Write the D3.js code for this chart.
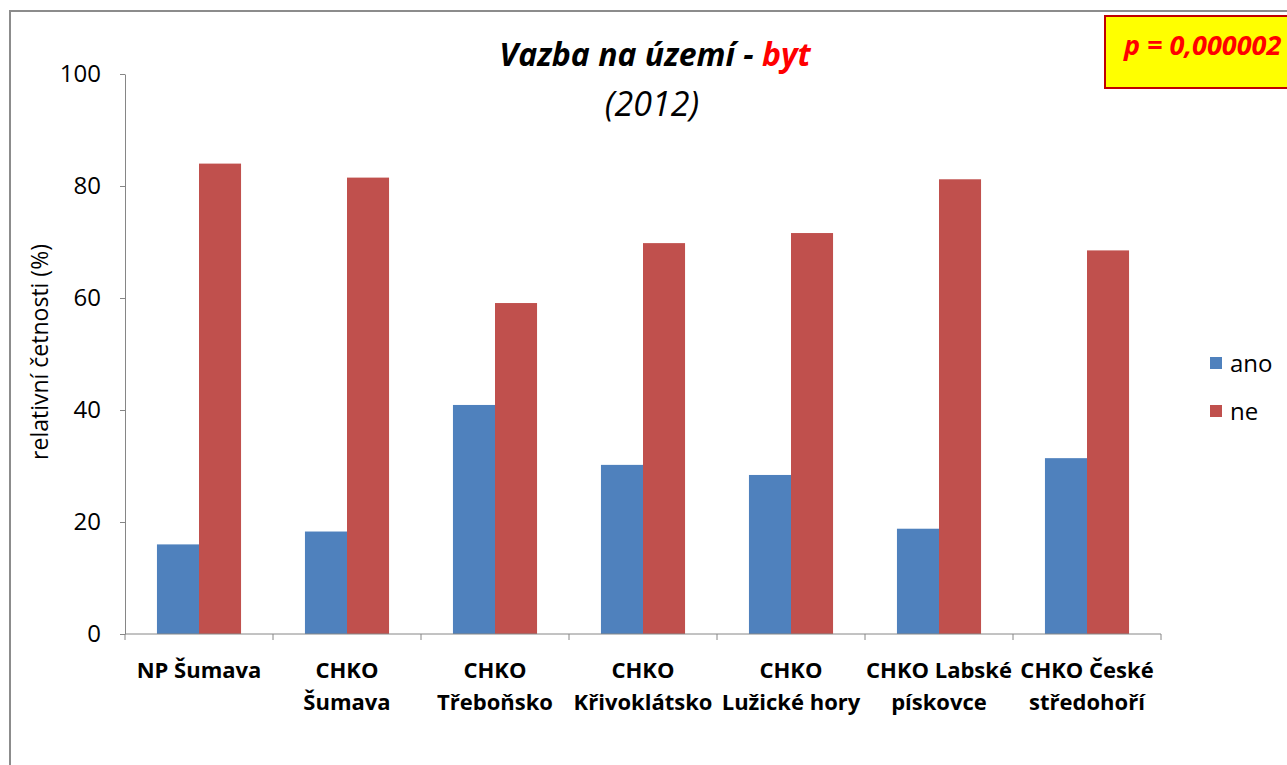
<!DOCTYPE html>
<html>
<head>
<meta charset="utf-8">
<script src="https://cdn.jsdelivr.net/npm/d3@7"></script>
<style>
  body { margin: 0; background: #fff; }
  text { font-family: "Open Sans", sans-serif; }
</style>
</head>
<body>
<div id="chart"></div>
<script>
const categories = [
  ["NP Šumava"],
  ["CHKO", "Šumava"],
  ["CHKO", "Třeboňsko"],
  ["CHKO", "Křivoklátsko"],
  ["CHKO", "Lužické hory"],
  ["CHKO Labské", "pískovce"],
  ["CHKO České", "středohoří"]
];
const seriesNames = ["ano", "ne"];
const anoValues = [16, 18.3, 40.9, 30.2, 28.4, 18.8, 31.4];
const neValues = [84, 81.5, 59.1, 69.8, 71.6, 81.2, 68.5];
const yTicks = [0, 20, 40, 60, 80, 100];
const colors = ["#4f81bd", "#c0504d"];

const width = 1287, height = 765;
const margin = {left: 125, right: 126, top: 74, bottom: 131};

const svg = d3.select("#chart").append("svg")
  .attr("width", width)
  .attr("height", height);

// outer frame
svg.append("rect")
  .attr("x", 10).attr("y", 11)
  .attr("width", 1400).attr("height", 900)
  .attr("fill", "#fff")
  .attr("stroke", "#8c8c8c")
  .attr("stroke-width", 2);

const x0 = d3.scaleBand()
  .domain(d3.range(categories.length))
  .range([margin.left, width - margin.right]);

const x1 = d3.scaleBand()
  .domain(seriesNames)
  .range([0, x0.bandwidth()])
  .paddingInner(0)
  .paddingOuter(0.76);

const y = d3.scaleLinear()
  .domain([0, 100])
  .range([height - margin.bottom, margin.top]);

const data = categories.map((c, i) => ({i: i, values: [anoValues[i], neValues[i]]}));

// bars
const groups = svg.append("g").selectAll("g")
  .data(data)
  .enter().append("g")
  .attr("transform", d => "translate(" + x0(d.i) + ",0)");

groups.selectAll("rect")
  .data(d => d.values.map((v, k) => ({key: seriesNames[k], v: v, k: k})))
  .enter().append("rect")
  .attr("x", d => x1(d.key))
  .attr("y", d => y(d.v))
  .attr("width", x1.bandwidth())
  .attr("height", d => y(0) - y(d.v))
  .attr("fill", d => colors[d.k]);

// y axis
const yAxis = svg.append("g")
  .attr("transform", "translate(" + margin.left + ",0)")
  .call(d3.axisLeft(y).tickValues(yTicks).tickSize(5).tickPadding(19).tickSizeOuter(0));
yAxis.select(".domain").attr("stroke", "#868686");
yAxis.selectAll(".tick line").attr("stroke", "#868686");
yAxis.selectAll("text")
  .attr("font-size", 24)
  .attr("fill", "#000")
  .style("font-family", "'Open Sans', sans-serif");

// x axis
const xAxis = svg.append("g")
  .attr("transform", "translate(0," + y(0) + ")");
xAxis.append("line")
  .attr("x1", margin.left).attr("x2", width - margin.right)
  .attr("y1", 0).attr("y2", 0)
  .attr("stroke", "#868686");
const xTickPos = d3.range(categories.length + 1).map(i => margin.left + i * x0.step());
xAxis.selectAll(".xtick")
  .data(xTickPos)
  .enter().append("line")
  .attr("x1", d => d).attr("x2", d => d)
  .attr("y1", 0).attr("y2", 6)
  .attr("stroke", "#868686");

const xl = xAxis.selectAll(".xlabel")
  .data(categories)
  .enter().append("text")
  .attr("x", (d, i) => x0(i) + x0.bandwidth() / 2)
  .attr("y", 44)
  .attr("text-anchor", "middle")
  .attr("font-size", 22)
  .attr("font-weight", "bold")
  .attr("fill", "#000");
xl.selectAll("tspan")
  .data(d => d)
  .enter().append("tspan")
  .attr("x", function() { return this.parentNode.getAttribute("x"); })
  .attr("dy", (d, k) => k === 0 ? 0 : 32)
  .text(d => d);

// y axis title
svg.append("text")
  .attr("transform", "translate(48,352) rotate(-90)")
  .attr("text-anchor", "middle")
  .attr("font-size", 23)
  .attr("fill", "#000")
  .text("relativní četnosti (%)");

// title
const title = svg.append("text")
  .attr("x", 655).attr("y", 66)
  .attr("text-anchor", "middle")
  .attr("font-size", 32)
  .attr("font-weight", "bold")
  .attr("font-style", "italic")
  .attr("fill", "#000");
title.append("tspan").text("Vazba na území - ");
title.append("tspan").attr("fill", "#ff0000").text("byt");

svg.append("text")
  .attr("x", 652).attr("y", 116)
  .attr("text-anchor", "middle")
  .attr("font-size", 34)
  .attr("font-style", "italic")
  .attr("fill", "#000")
  .text("(2012)");

// legend
const legend = svg.append("g").selectAll("g")
  .data(seriesNames)
  .enter().append("g")
  .attr("transform", (d, i) => "translate(1210," + (357 + i * 48) + ")");
legend.append("rect")
  .attr("width", 12).attr("height", 12)
  .attr("fill", (d, i) => colors[i]);
legend.append("text")
  .attr("x", 20).attr("y", 15)
  .attr("font-size", 24)
  .attr("fill", "#000")
  .text(d => d);

// p-value box
svg.append("rect")
  .attr("x", 1105).attr("y", 16)
  .attr("width", 200).attr("height", 72)
  .attr("fill", "#ffff00")
  .attr("stroke", "#c00000")
  .attr("stroke-width", 2);
svg.append("text")
  .attr("x", 1124).attr("y", 55)
  .attr("font-size", 27)
  .attr("font-weight", "bold")
  .attr("font-style", "italic")
  .attr("fill", "#ff0000")
  .text("p = 0,000002");
</script>
</body>
</html>
